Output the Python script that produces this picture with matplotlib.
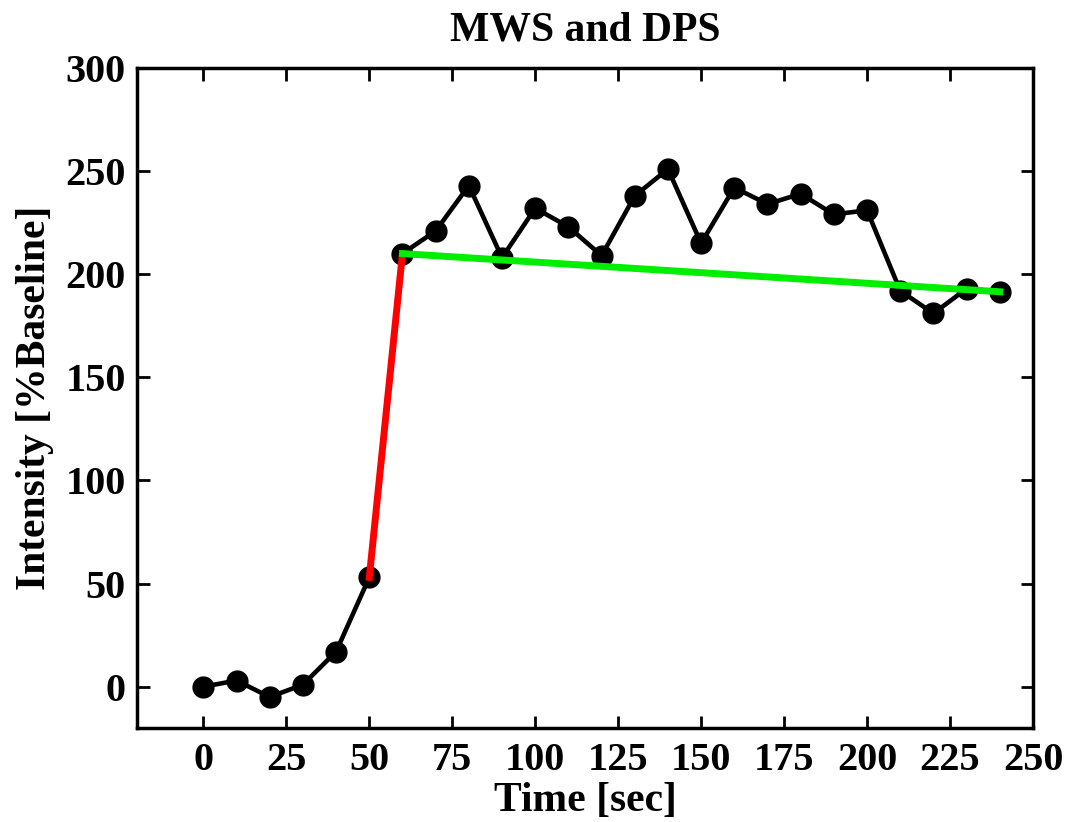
import matplotlib
matplotlib.use("Agg")
import matplotlib.pyplot as plt

time_sec = [0, 10, 20, 30, 40, 50, 60, 70, 80, 90, 100, 110, 120, 130, 140, 150,
            160, 170, 180, 190, 200, 210, 220, 230, 240]
intensity = [0, 3, -5, 1, 17, 53, 210, 221, 243, 208, 232, 223, 209, 238, 251, 215,
             242, 234, 239, 229, 231, 192, 181, 193, 191.5]

rise_x = [50, 60]
rise_y = [53, 210]
plateau_x = [60, 240]
plateau_y = [210, 191.5]

xticks = [0, 25, 50, 75, 100, 125, 150, 175, 200, 225, 250]
yticks = [0, 50, 100, 150, 200, 250, 300]

plt.rcParams['font.family'] = ['Liberation Serif', 'DejaVu Serif']
plt.rcParams['font.weight'] = 'bold'

fig = plt.figure(figsize=(10.83, 8.22), dpi=100)
ax = fig.add_axes([0.1265, 0.1144, 0.8273, 0.8029])

ax.plot(time_sec, intensity, color='black', lw=3.3, marker='o', ms=15, zorder=2)
ax.plot(rise_x, rise_y, color='#ff0000', lw=5, zorder=3)
ax.plot(plateau_x, plateau_y, color='#00ee00', lw=5, zorder=3)

ax.set_xlim(-20, 250)
ax.set_ylim(-20, 300)
ax.set_xticks(xticks)
ax.set_yticks(yticks)
ax.tick_params(direction='in', length=9, width=2, top=True, right=True,
               labelsize=29)
ax.tick_params(axis='x', pad=10)
ax.tick_params(axis='y', pad=8)
for lab in ax.get_xticklabels() + ax.get_yticklabels():
    lab.set_fontweight('bold')
for s in ax.spines.values():
    s.set_linewidth(2.5)

ax.set_xlabel('Time [sec]', fontsize=30, fontweight='bold', labelpad=2)
ax.set_ylabel('Intensity [%Baseline]', fontsize=30, fontweight='bold', labelpad=8)
ax.set_title('MWS and DPS', fontsize=30, fontweight='bold', pad=20)

fig.savefig('out.png', dpi=100)
